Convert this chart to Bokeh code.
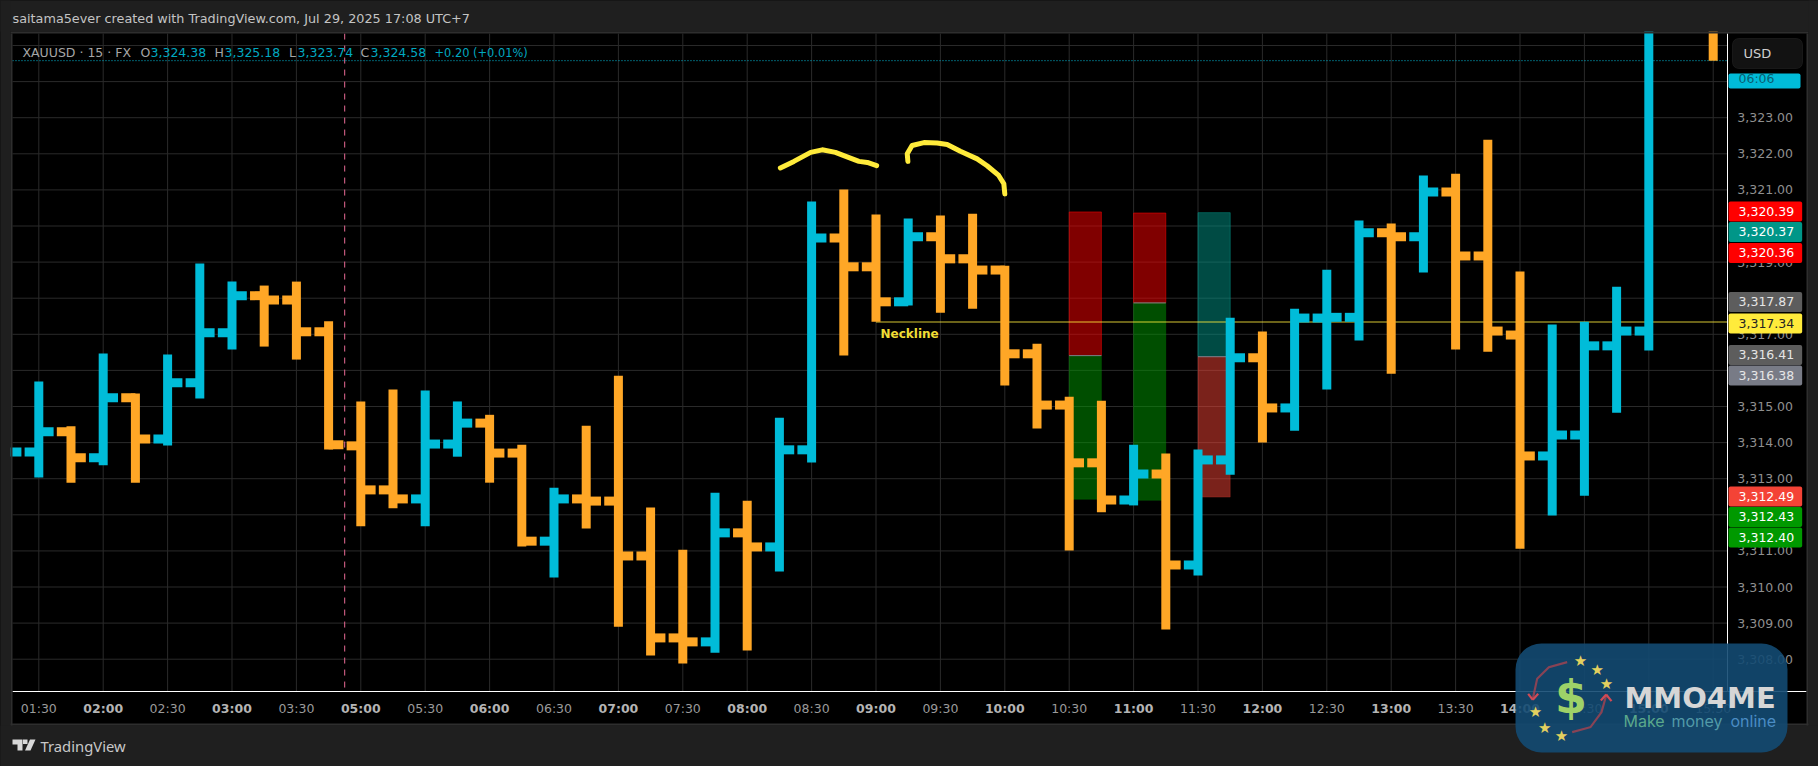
from bokeh.plotting import figure
from bokeh.models import (BoxAnnotation, ColumnDataSource, FixedTicker, GlobalInlineStyleSheet, Label,
                          PolyAnnotation, Range1d)
from bokeh.embed import file_html
from bokeh.resources import INLINE
import math

# ---------- data (prices) ----------
bar_index = list(range(-1, 51)) + [52]
high = [3313.74, 3315.69, 3314.45, 3316.47, 3315.36, 3316.44, 3318.96, 3318.46, 3318.35, 3318.46,
        3317.36, 3315.14, 3315.47, 3315.44, 3315.14, 3314.77, 3313.94, 3312.75, 3314.47, 3315.85,
        3312.20, 3311.03, 3312.61, 3312.39, 3314.69, 3320.68, 3321.01, 3320.32, 3320.21, 3320.29,
        3320.34, 3318.90, 3316.74, 3315.27, 3315.16, 3313.94, 3313.70, 3313.81, 3317.46, 3317.08,
        3317.71, 3318.79, 3320.15, 3320.07, 3321.40, 3321.45, 3322.39, 3318.74, 3317.27, 3317.35,
        3318.32, 3326.00, 3326.00]
low = [3313.74, 3313.03, 3312.89, 3313.37, 3312.89, 3313.92, 3315.22, 3316.58, 3316.66, 3316.30,
       3313.81, 3311.68, 3312.18, 3311.68, 3313.61, 3312.89, 3311.12, 3310.26, 3311.62, 3308.90,
       3308.10, 3307.88, 3308.18, 3308.24, 3310.43, 3313.45, 3316.41, 3317.35, 3317.80, 3317.60,
       3317.71, 3315.58, 3314.39, 3311.01, 3312.07, 3312.26, 3308.82, 3310.32, 3313.11, 3314.00,
       3314.33, 3315.47, 3316.83, 3315.91, 3318.71, 3316.58, 3316.52, 3311.06, 3311.98, 3312.53,
       3314.83, 3316.55, 3324.58]
open_ = [3313.74, 3313.74, 3314.30, 3313.58, 3315.24, 3314.10, 3315.66, 3317.04, 3318.07, 3317.95,
         3317.07, 3313.91, 3312.69, 3312.44, 3313.96, 3314.54, 3313.71, 3311.27, 3312.44, 3312.38,
         3310.86, 3308.59, 3308.48, 3311.50, 3311.11, 3313.80, 3319.67, 3318.87, 3317.90, 3319.70,
         3319.09, 3318.78, 3316.46, 3315.04, 3313.44, 3312.41, 3313.13, 3310.61, 3313.52, 3316.35,
         3314.96, 3317.45, 3317.47, 3319.81, 3319.70, 3320.94, 3319.17, 3316.98, 3313.63, 3314.21,
         3316.68, 3317.09, 3326.10]
close = [3313.74, 3314.30, 3313.58, 3315.24, 3314.10, 3315.66, 3317.04, 3318.07, 3317.95, 3317.07,
         3313.94, 3312.69, 3312.44, 3313.96, 3314.54, 3313.71, 3311.27, 3312.44, 3312.38, 3310.86,
         3308.59, 3308.48, 3311.50, 3311.11, 3313.80, 3319.67, 3318.87, 3317.90, 3319.70, 3319.09,
         3318.78, 3316.46, 3315.04, 3313.44, 3312.41, 3313.13, 3310.61, 3313.52, 3316.35, 3314.96,
         3317.45, 3317.47, 3319.81, 3319.70, 3320.94, 3319.17, 3317.09, 3313.63, 3314.21, 3316.68,
         3317.09, 3326.00, 3326.00]

time_labels = ["01:30", "02:00", "02:30", "03:00", "03:30", "05:00", "05:30", "06:00", "06:30", "07:00",
               "07:30", "08:00", "08:30", "09:00", "09:30", "10:00", "10:30", "11:00", "11:30", "12:00",
               "12:30", "13:00", "13:30", "14:00", "14:30", "15:00", "15:30"]
price_ticks = list(range(3308, 3326))

# position boxes: left/right in bar index, top / entry / bottom price
pos_left = [32, 34, 36]
pos_right = [33, 35, 37]
pos_top = [3320.39, 3320.36, 3320.37]
pos_mid = [3316.41, 3317.87, 3316.38]
pos_bottom = [3312.43, 3312.40, 3312.49]
pos_upper_color = ["#ff0000", "#ff0000", "#009688"]
pos_lower_color = ["#009c00", "#009c00", "#f44336"]

neck_price = 3317.34
neck_start = 26
last_close = 3324.58
cursor_index = 9.5

curve1_i = [23.03, 23.45, 23.97, 24.33, 24.74, 25.00, 25.47, 25.73, 26.02]
curve1_p = [3321.61, 3321.79, 3322.04, 3322.11, 3322.04, 3321.95, 3321.79, 3321.76, 3321.67]
curve2_i = [26.99, 26.97, 27.12, 27.49, 27.90, 28.21, 28.62, 29.14, 29.45, 29.81, 29.97, 30.00]
curve2_p = [3321.79, 3322.00, 3322.23, 3322.31, 3322.30, 3322.26, 3322.07, 3321.86, 3321.67, 3321.40, 3321.17, 3320.89]

tag_text = ["3,320.39", "3,320.37", "3,320.36", "3,317.87", "3,317.34", "3,316.41", "3,316.38", "3,312.49", "3,312.43", "3,312.40"]
tag_fill = ["#ff0000", "#009688", "#ff0000", "#5d5d5d", "#ffeb3b", "#5d5d5d", "#787b86", "#f44336", "#009900", "#009900"]
tag_ink = ["#ffffff", "#ffffff", "#ffffff", "#e6e6e6", "#222222", "#e6e6e6", "#e6e6e6", "#ffffff", "#ffffff", "#ffffff"]
tag_center_px = [211, 231.5, 252.5, 301.5, 323, 354.5, 375, 496, 516.5, 537]

# ---------- palette / fonts ----------
BG, BLACK, GRID, EDGE = "#1f1f1f", "#000000", "#2a2a2a", "#2e2e2e"
UP, DOWN = "#00bcd9", "#ffa726"
FONT = "DejaVu Sans"

# pane limits on the price and bar-index scales
PANE_LEFT, PANE_RIGHT, PANE_BOTTOM, PANE_TOP = -0.817, 52.44, 3307.105, 3325.33

p = figure(width=1818, height=766, output_backend="svg", toolbar_location=None,
           x_range=Range1d(-1.1894, 55.27), y_range=Range1d(3305.028, 3326.2465),
           x_axis_location="below", y_axis_location="right",
           min_border_left=0, min_border_right=0, min_border_top=0, min_border_bottom=0,
           background_fill_color=BLACK, border_fill_color=BG, outline_line_color=None)
p.stylesheets = [GlobalInlineStyleSheet(css="html,body{background:#1f1f1f;overflow:hidden;}")]
p.xgrid.visible = False
p.ygrid.visible = False


def chrome_box(l, t, r, b, color, level="annotation", **kw):
    box = BoxAnnotation(left=l, right=r, top=t, bottom=b,
                        left_units="canvas", right_units="canvas", top_units="canvas", bottom_units="canvas",
                        fill_color=color, fill_alpha=kw.pop("alpha", 1), line_color=kw.pop("line", None),
                        level=level, editable=False, **kw)
    p.add_layout(box)
    return box


# axes (they sit inside the full-canvas frame)
even_ticks = list(range(0, 2 * len(time_labels), 2))
xa = p.xaxis[0]
xa.fixed_location = PANE_BOTTOM
xa.bounds = (PANE_LEFT, 54.9)
xa.ticker = FixedTicker(ticks=even_ticks)
xa.major_label_overrides = {t: (lab if lab.endswith(":30") else "") for t, lab in zip(even_ticks, time_labels)}
xa.major_label_text_font = FONT
xa.major_label_text_font_size = "12.5px"
xa.major_label_text_color = "#9a9a9a"
xa.major_label_standoff = 3
xa.major_tick_line_color = None
xa.minor_tick_line_color = None
xa.axis_line_color = "#ffffff"

ya = p.yaxis[0]
ya.fixed_location = PANE_RIGHT
ya.bounds = (PANE_BOTTOM, PANE_TOP)
ya.ticker = FixedTicker(ticks=price_ticks)
ya.major_label_overrides = {t: f"{t:,.2f}" for t in price_ticks}
ya.major_label_text_font = FONT
ya.major_label_text_font_size = "12.5px"
ya.major_label_text_color = "#8f8f8f"
ya.major_label_standoff = 4
ya.major_tick_line_color = None
ya.minor_tick_line_color = None
ya.axis_line_color = "#ffffff"

# grid
p.segment(x0=even_ticks, x1=even_ticks, y0=PANE_BOTTOM, y1=PANE_TOP, line_color=GRID, line_width=1)
p.segment(x0=PANE_LEFT, x1=PANE_RIGHT, y0=price_ticks, y1=price_ticks, line_color=GRID, line_width=1)

# position tool boxes
p.quad(left=pos_left, right=pos_right, top=pos_top, bottom=pos_mid, fill_color=pos_upper_color, fill_alpha=0.5,
       line_color=pos_upper_color, line_alpha=0.5, line_width=1)
p.quad(left=pos_left, right=pos_right, top=pos_mid, bottom=pos_bottom, fill_color=pos_lower_color, fill_alpha=0.5,
       line_color=pos_lower_color, line_alpha=0.25, line_width=1)
p.segment(x0=pos_left, x1=pos_right, y0=pos_mid, y1=pos_mid, line_color="#787b86", line_width=1)

# neckline, last price, cursor
p.segment(x0=[neck_start], x1=[PANE_RIGHT], y0=[neck_price], y1=[neck_price], line_color="#ffeb3b", line_alpha=0.42, line_width=2)
p.line([cursor_index, cursor_index], [PANE_BOTTOM + 0.11, PANE_TOP], line_color="#e96a96", line_width=1, line_dash="6 6")
p.line([PANE_LEFT, PANE_RIGHT], [last_close, last_close], line_color=UP, line_width=1, line_dash="1 2")

# OHLC bars
colors = [UP if c >= o else DOWN for o, c in zip(open_, close)]
src = ColumnDataSource(dict(i=bar_index, h=high, l=low, o=open_, c=close, color=colors,
                            left=[i - 0.44 if i >= 0 else i for i in bar_index], right=[i + 0.46 for i in bar_index]))
p.segment(x0="left", x1="i", y0="o", y1="o", source=src, line_color="color", line_width=9)
p.segment(x0="i", x1="right", y0="c", y1="c", source=src, line_color="color", line_width=9)
p.segment(x0="i", x1="i", y0="l", y1="h", source=src, line_color="color", line_width=9)

# hand drawn arcs
p.line(curve1_i, curve1_p, line_color="#ffeb3b", line_width=5, line_cap="round", line_join="round")
p.line(curve2_i, curve2_p, line_color="#ffeb3b", line_width=5, line_cap="round", line_join="round")


def text(x, y, s, color="#9a9a9a", size=12.5, bold=False, font=FONT, align="left", level="annotation", x_data=False, alpha=1.0, **kw):
    lab = Label(x=x, y=y, text=s, text_color=color, text_font_size=f"{size}px",
                text_font=font, text_font_style="bold" if bold else "normal", text_align=align,
                text_baseline="middle", x_units="data" if x_data else "canvas", y_units="canvas", level=level,
                text_alpha=alpha, **kw)
    p.add_layout(lab)
    return lab


# outer page masks and pane edges, above the marks
chrome_box(-5, -5, 1825, 31, BG)
chrome_box(-5, -5, 10, 770, BG)
chrome_box(1808, -5, 1825, 770, BG)
chrome_box(-5, 725, 1825, 770, BG)
chrome_box(10, 31, 1808, 33, EDGE)
chrome_box(10, 33, 12, 725, EDGE)
chrome_box(1806, 33, 1808, 725, EDGE)
chrome_box(10, 723, 1808, 725, EDGE)

# bold hour labels on the time axis
for t, lab in zip(even_ticks, time_labels):
    if lab.endswith(":00"):
        text(t, 708, lab, color="#b4b4b4", size=12.5, bold=True, align="center", x_data=True)

text(880, 333, "Neckline", color="#f0dd35", size=12, bold=True)

# header texts
text(12, 18, "saitama5ever created with TradingView.com, Jul 29, 2025 17:08 UTC+7", color="#c4c4c4", size=12.8)
LEG_GRAY, LEG_CYAN = "#a6a6a6", "#00a8c0"
legend_parts = [(22, "XAUUSD · 15 · FX", LEG_GRAY, 12.5), (140, "O", LEG_GRAY, 12.5), (150, "3,324.38", LEG_CYAN, 12.5),
                (214, "H", LEG_GRAY, 12.5), (224, "3,325.18", LEG_CYAN, 12.5), (288.5, "L", LEG_GRAY, 12.5), (297, "3,323.74", LEG_CYAN, 12.5),
                (360, "C", LEG_GRAY, 12.5), (370, "3,324.58", LEG_CYAN, 12.5), (434, "+0.20 (+0.01%)", LEG_CYAN, 11.4)]
for x, s, col, sz in legend_parts:
    text(x, 52, s, color=col, size=sz)

# price scale tags
for s, fill, ink, yc in zip(tag_text, tag_fill, tag_ink, tag_center_px):
    text(1728, yc, s, color=ink, size=12.5, padding=(10, 8, 5, 6), background_fill_color=fill, border_radius=2)

# USD button and countdown
chrome_box(1732, 38, 1802, 68, "#121212", line="#3a3a3a", border_radius=6)
text(1743, 53, "USD", color="#cfcfcf", size=13)
chrome_box(1728, 73, 1800, 88, UP, border_radius=2)
text(1738, 77.5, "06:06", color="#0a5f73", size=12.5)


# TradingView logo
def poly(xs, ys, color, alpha=1.0, level="annotation"):
    p.add_layout(PolyAnnotation(xs=list(xs), ys=list(ys), xs_units="canvas", ys_units="canvas",
                                fill_color=color, fill_alpha=alpha, line_color=None, level=level, editable=False))


poly([12, 22, 22, 17, 17, 12], [739, 739, 750, 750, 744, 744], "#d8d8d8")
poly([29.5, 35, 30, 24.5], [739, 739, 750, 750], "#d8d8d8")
poly([22.5, 27, 27, 22.5], [739, 739, 743.5, 743.5], "#d8d8d8")
text(40, 745.5, "TradingView", color="#c8c8c8", size=14.8, font="Noto Sans")

# watermark
OV = "overlay"
chrome_box(1515, 643, 1787, 752, "#134a72", level=OV, alpha=0.9, border_radius=26)


def arc_poly(pts, width, color, alpha=1.0):
    left, right = [], []
    for k, (x, y) in enumerate(pts):
        a, b = pts[max(k - 1, 0)], pts[min(k + 1, len(pts) - 1)]
        dx, dy = b[0] - a[0], b[1] - a[1]
        n = math.hypot(dx, dy)
        left.append((x - dy / n * width / 2, y + dx / n * width / 2))
        right.append((x + dy / n * width / 2, y - dx / n * width / 2))
    ring = left + right[::-1]
    poly([q[0] for q in ring], [q[1] for q in ring], color, alpha, OV)


def z(pts):
    return [(1515 + a / 3, 640 + b / 3) for a, b in pts]


arc_poly(z([(155, 65), (100, 80), (65, 115), (52, 175)]), 2.2, "#b0434f", 0.75)
arc_poly(z([(38, 160), (52, 178)]), 2.2, "#d04a55")
arc_poly(z([(52, 178), (68, 160)]), 2.2, "#d04a55")
arc_poly(z([(170, 275), (225, 260), (258, 215), (272, 165)]), 2.2, "#b0434f", 0.75)
arc_poly(z([(256, 180), (272, 162)]), 2.2, "#d04a55")
arc_poly(z([(272, 162), (288, 182)]), 2.2, "#d04a55")
for a, b in [(195, 62), (245, 87), (273, 130), (60, 215), (88, 262), (138, 285)]:
    text(1515 + a / 3, 640 + b / 3, "★", color="#e3d05f", size=15, align="center", level=OV)
text(1570.5, 696, "$", color="#9ed268", size=46, bold=True, align="center", level=OV)
text(1624, 697, "MMO4ME", color="#d6d6d6", size=29, bold=True, level=OV)
text(1623, 720, "Make", color="#5ba88c", size=16, font="Inter", level=OV)
text(1671, 720, "money", color="#529aa8", size=16, font="Inter", level=OV)
text(1730, 720, "online", color="#4a8cc4", size=16, font="Inter", level=OV)

open("out.html", "w").write(file_html(p, INLINE))
